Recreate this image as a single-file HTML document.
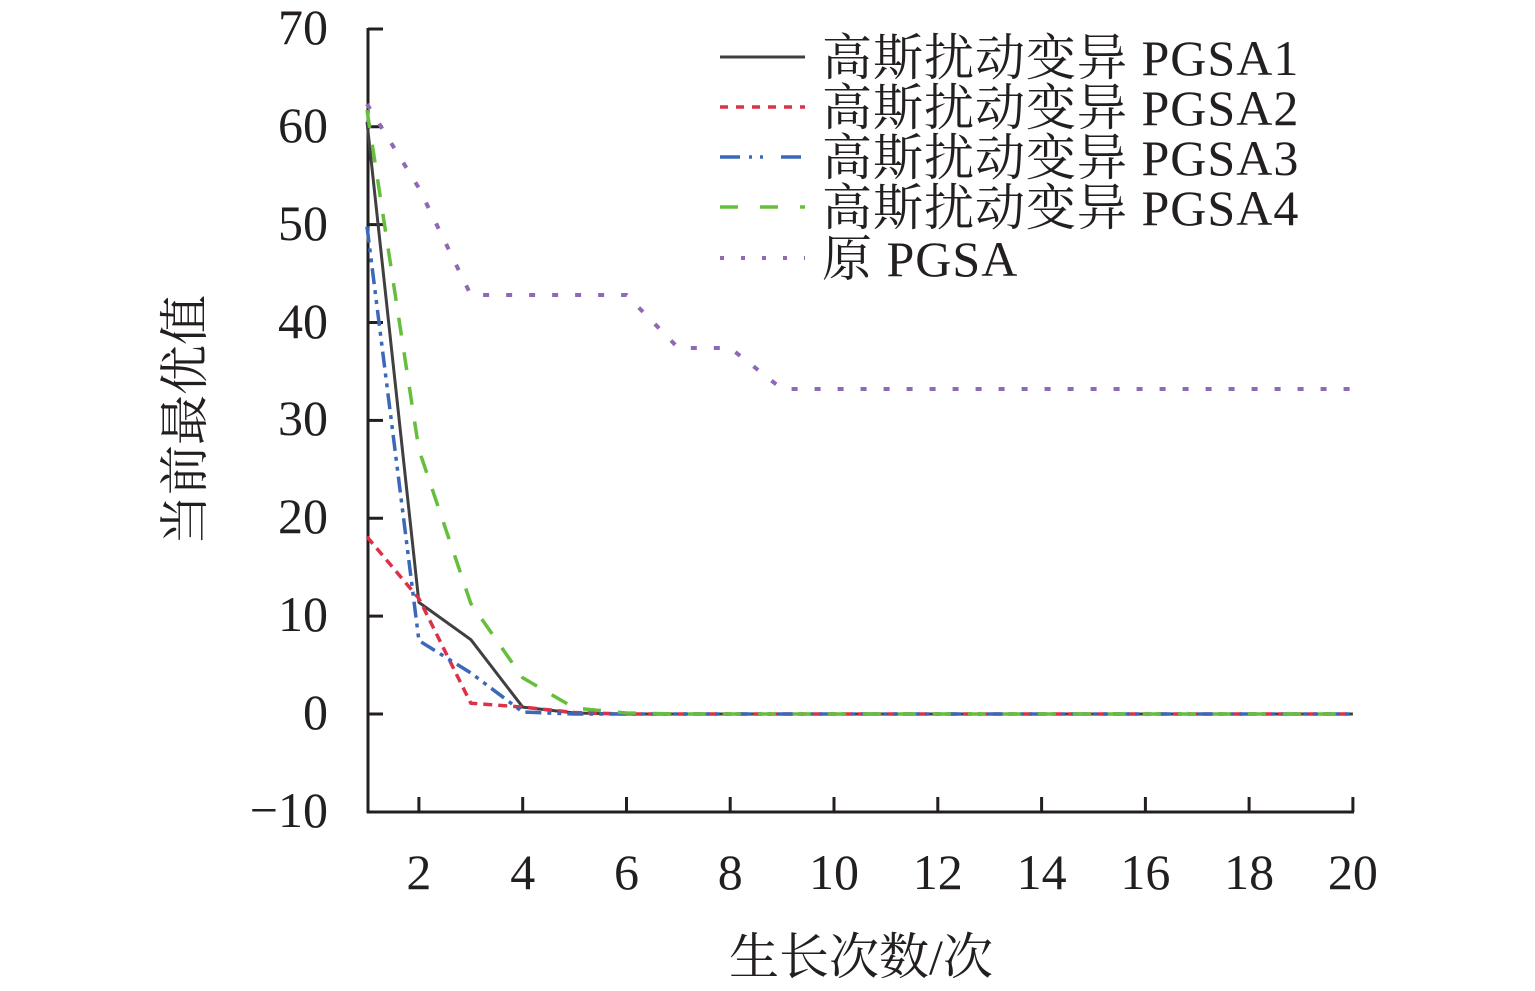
<!DOCTYPE html>
<html>
<head>
<meta charset="utf-8">
<style>
html,body{margin:0;padding:0;background:#fff;}
svg{display:block;}
text{font-family:"Liberation Serif","Noto Serif CJK SC","Noto Sans CJK SC",serif;fill:#231f20;}
</style>
</head>
<body>
<svg width="1535" height="991" viewBox="0 0 1535 991" xmlns="http://www.w3.org/2000/svg">
  <rect width="1535" height="991" fill="#fff"/>

  <!-- Axes -->
  <g stroke="#231f20" stroke-width="3" fill="none">
    <line x1="368" y1="28" x2="368" y2="813"/>
    <line x1="367" y1="812" x2="1354" y2="812"/>
    <!-- y ticks -->
    <line x1="368" y1="29" x2="383" y2="29"/>
    <line x1="368" y1="126.75" x2="383" y2="126.75"/>
    <line x1="368" y1="224.6" x2="383" y2="224.6"/>
    <line x1="368" y1="322.5" x2="383" y2="322.5"/>
    <line x1="368" y1="420.4" x2="383" y2="420.4"/>
    <line x1="368" y1="518.25" x2="383" y2="518.25"/>
    <line x1="368" y1="616.1" x2="383" y2="616.1"/>
    <line x1="368" y1="714" x2="383" y2="714"/>
    <!-- x ticks -->
    <line x1="418.9" y1="812" x2="418.9" y2="797"/>
    <line x1="522.7" y1="812" x2="522.7" y2="797"/>
    <line x1="626.5" y1="812" x2="626.5" y2="797"/>
    <line x1="730.2" y1="812" x2="730.2" y2="797"/>
    <line x1="834.0" y1="812" x2="834.0" y2="797"/>
    <line x1="937.8" y1="812" x2="937.8" y2="797"/>
    <line x1="1041.6" y1="812" x2="1041.6" y2="797"/>
    <line x1="1145.4" y1="812" x2="1145.4" y2="797"/>
    <line x1="1249.1" y1="812" x2="1249.1" y2="797"/>
    <line x1="1352.9" y1="812" x2="1352.9" y2="797"/>
  </g>

  <!-- Y tick labels -->
  <g font-size="50" text-anchor="end">
    <text x="328" y="44">70</text>
    <text x="328" y="142">60</text>
    <text x="328" y="240">50</text>
    <text x="328" y="338">40</text>
    <text x="328" y="435">30</text>
    <text x="328" y="533">20</text>
    <text x="328" y="631">10</text>
    <text x="328" y="729">0</text>
    <text x="328" y="827">−10</text>
  </g>

  <!-- X tick labels -->
  <g font-size="50" text-anchor="middle">
    <text x="418.9" y="889">2</text>
    <text x="522.7" y="889">4</text>
    <text x="626.5" y="889">6</text>
    <text x="730.2" y="889">8</text>
    <text x="834.0" y="889">10</text>
    <text x="937.8" y="889">12</text>
    <text x="1041.6" y="889">14</text>
    <text x="1145.4" y="889">16</text>
    <text x="1249.1" y="889">18</text>
    <text x="1352.9" y="889">20</text>
  </g>

  <!-- Axis titles -->
  <text x="861" y="974" font-size="50" text-anchor="middle">生长次数/次</text>
  <text x="202" y="420" font-size="50" text-anchor="middle" transform="rotate(-90 202 420)">当前最优值</text>

  <!-- Series -->
  <g fill="none" stroke-linejoin="round">
    <polyline stroke="#404040" stroke-width="3"
      points="367,121.9 418.9,602.4 470.8,639.6 522.7,707.1 574.6,713 626.5,714 1352.9,714"/>
    <polyline stroke="#dc3248" stroke-width="3.5" stroke-dasharray="9 6"
      points="367,536.8 418.9,598.5 470.8,703.2 522.7,707.1 574.6,712.5 626.5,714 1352.9,714"/>
    <polyline stroke="#3b68b8" stroke-width="3.5" stroke-dasharray="16 6 4 6 4 6"
      points="367,226.6 418.9,640.6 470.8,672.9 522.7,712 574.6,714 1352.9,714"/>
    <polyline stroke="#66bf3c" stroke-width="3.5" stroke-dasharray="18 17"
      points="367,110.1 418.9,449.7 470.8,603.4 522.7,677.8 574.6,708.1 626.5,713 678.3,714 1352.9,714"/>
    <polyline stroke="#8e69b4" stroke-width="4" stroke-dasharray="6 17"
      points="367,104 418.9,188 470.8,295 626.5,295 678.3,348 730.2,348 782.1,389 1352.9,389"/>
  </g>

  <!-- Legend -->
  <g fill="none">
    <line x1="720" y1="57" x2="805" y2="57" stroke="#404040" stroke-width="3"/>
    <line x1="720" y1="107" x2="805" y2="107" stroke="#dc3248" stroke-width="3.5" stroke-dasharray="8 8"/>
    <line x1="720" y1="157" x2="805" y2="157" stroke="#3b68b8" stroke-width="3.5" stroke-dasharray="20 9 3 8 3 18 20"/>
    <line x1="720" y1="207" x2="805" y2="207" stroke="#66bf3c" stroke-width="3.5" stroke-dasharray="18 22"/>
    <line x1="720" y1="258" x2="805" y2="258" stroke="#8e69b4" stroke-width="4" stroke-dasharray="4 17"/>
  </g>
  <g font-size="50" letter-spacing="1">
    <text x="822" y="75">高斯扰动变异 PGSA1</text>
    <text x="822" y="125">高斯扰动变异 PGSA2</text>
    <text x="822" y="175">高斯扰动变异 PGSA3</text>
    <text x="822" y="225">高斯扰动变异 PGSA4</text>
    <text x="822" y="276">原 PGSA</text>
  </g>
</svg>
</body>
</html>
